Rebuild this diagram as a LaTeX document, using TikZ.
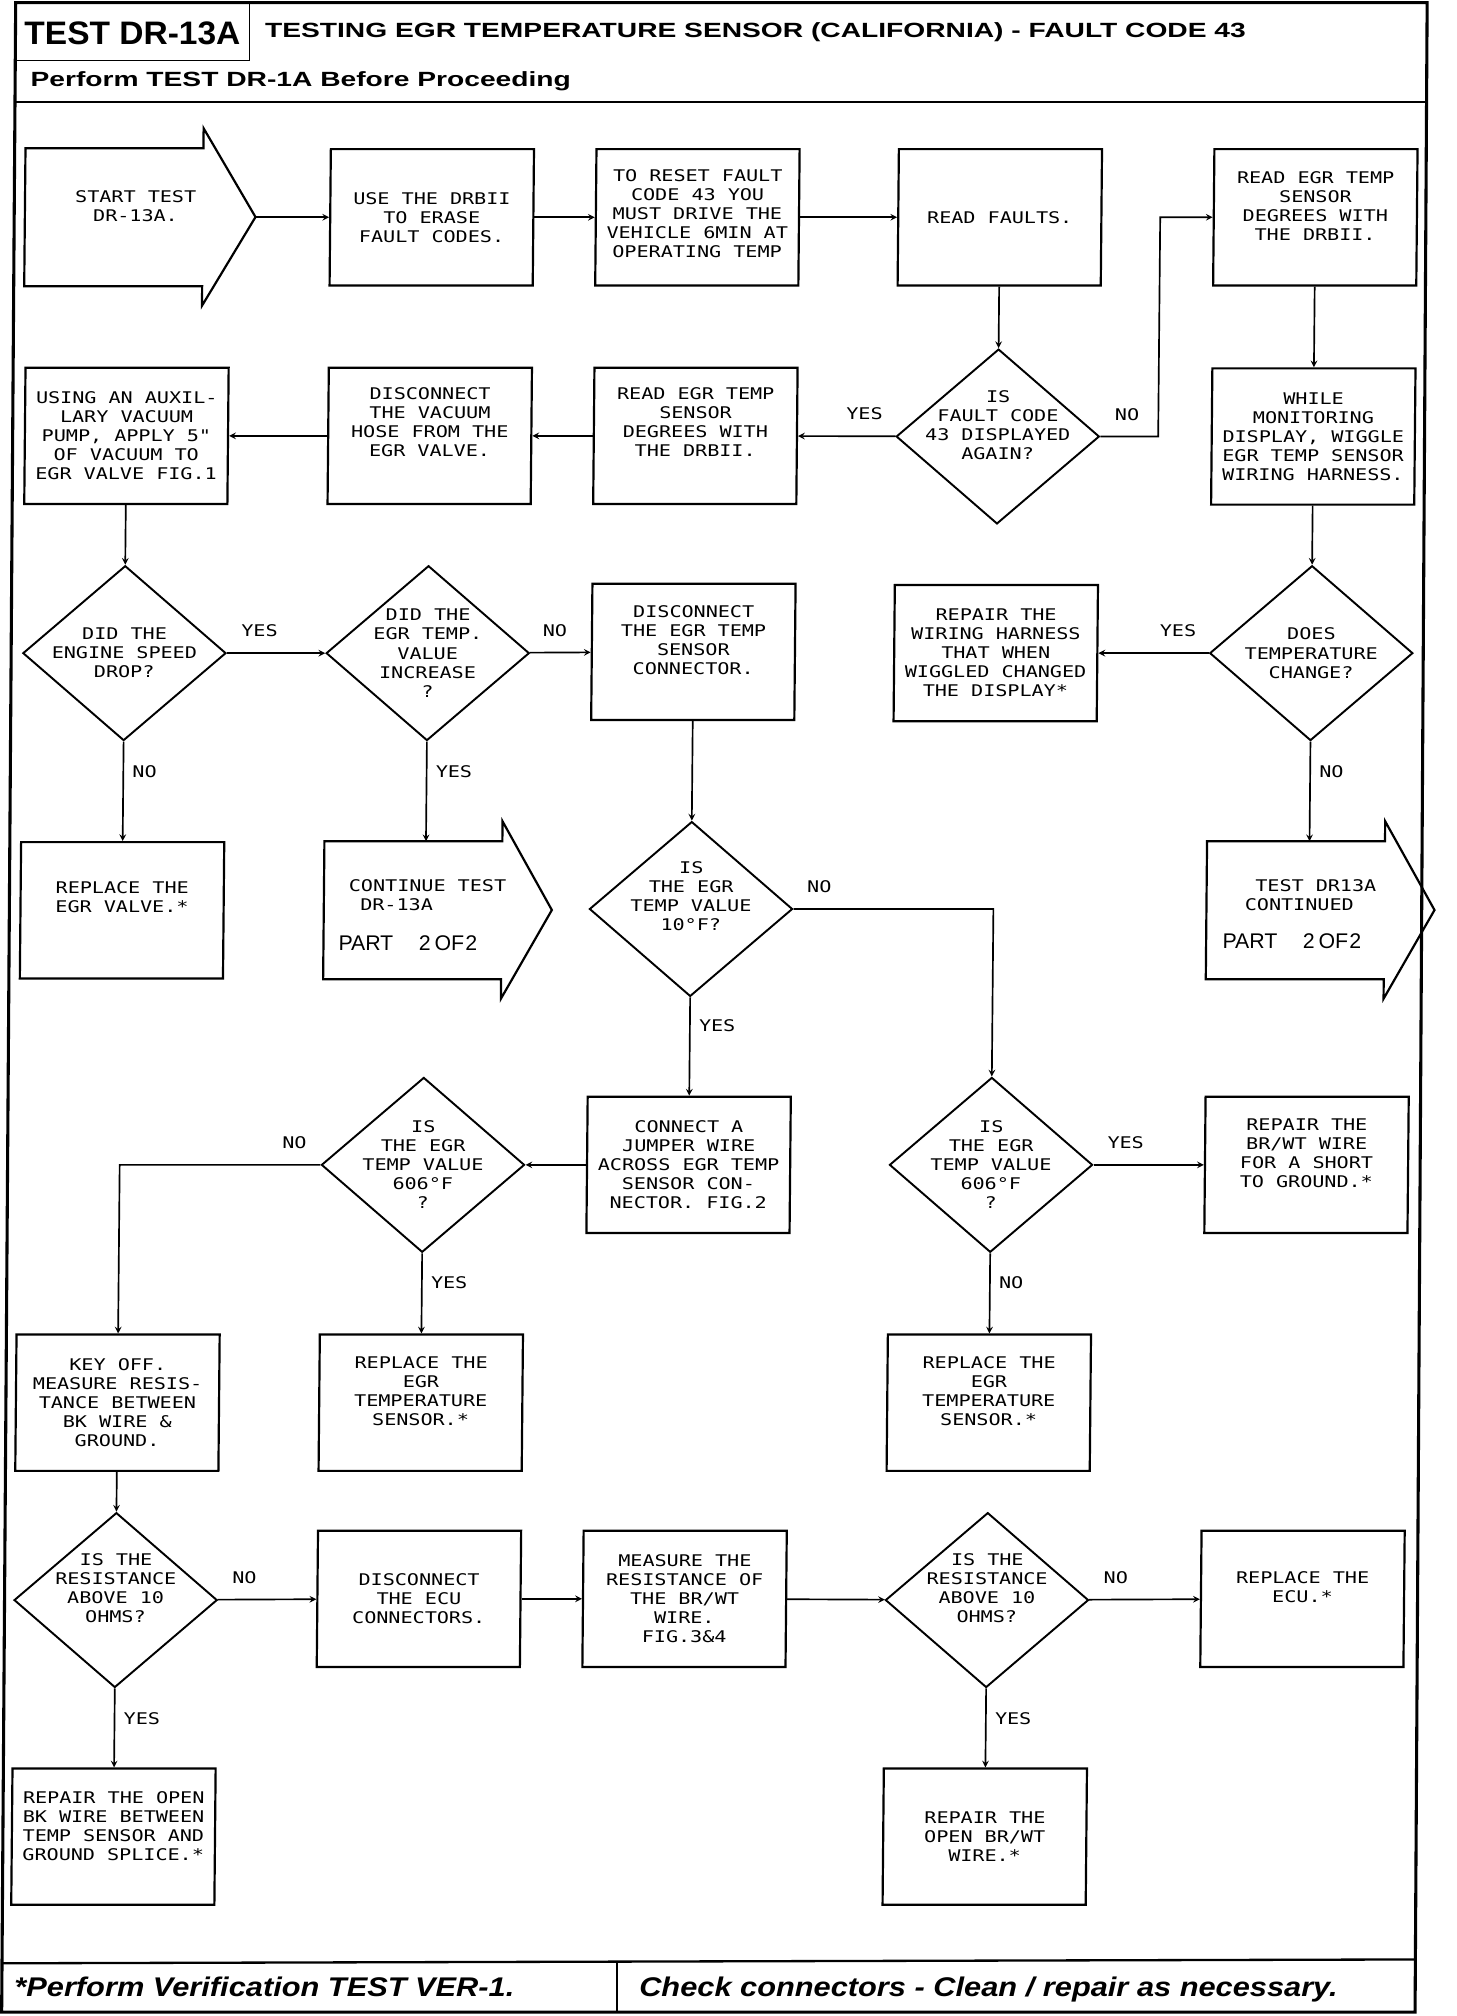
\documentclass[tikz,border=0pt]{standalone}
\usepackage{fontspec}
\usetikzlibrary{shapes.geometric}
\newfontfamily\plotter[FakeStretch=1.25]{DejaVu Sans Mono}
\newfontfamily\headfont[FakeStretch=1.37]{Liberation Sans}
\newfontfamily\tagfont[FakeStretch=1.03]{Liberation Sans}
\newfontfamily\footfont[FakeStretch=1.14]{Liberation Sans}
\newfontfamily\partfont{Liberation Sans}
\begin{document}
\begin{tikzpicture}[x=1pt,y=-1pt,>=stealth,
  box/.style={draw,line width=1.7pt,minimum width=158pt,minimum height=106pt,inner sep=0pt},
  dia/.style={draw,diamond,line width=1.5pt,minimum width=158pt,minimum height=136pt,inner sep=0pt},
  body/.style={minimum width=138pt,minimum height=107pt,inner sep=0pt},
  txt/.style={font=\plotter\fontsize{12.5}{14.8}\selectfont,align=center,inner sep=0pt},
  lab/.style={font=\plotter\fontsize{12.5}{14.8}\selectfont,inner sep=0pt},
  part/.style={font=\partfont\fontsize{16.5}{18}\selectfont,inner sep=0pt,anchor=base west},
  link/.style={->,line width=1.3pt}]
\useasboundingbox (0,0) rectangle (1132.5,1568);
\draw[line width=2.4pt] (12.2,2) -- (1110,2) -- (1100.6,1565) -- (1.3,1565) -- cycle;
\draw[line width=1.4pt] (194,2) -- (194,47) -- (11.9,47);
\draw[line width=1.8pt] (11.7,79.5) -- (1109.5,79.5);
\draw[line width=1.8pt] (1.5,1527) -- (1101,1524);
\draw[line width=1.4pt] (480,1526) -- (480,1565);
\node[font=\tagfont\bfseries\fontsize{25.3}{28}\selectfont,inner sep=0pt] (tag) at (103,26) {TEST DR-13A};
\node[font=\headfont\bfseries\fontsize{16}{18}\selectfont,inner sep=0pt,anchor=base west] (title) at (206,29) {TESTING EGR TEMPERATURE SENSOR (CALIFORNIA) - FAULT CODE 43};
\node[font=\headfont\bfseries\fontsize{16}{18}\selectfont,inner sep=0pt,anchor=base west] (first) at (23.6,67) {Perform TEST DR-1A Before Proceeding};
\node[font=\footfont\bfseries\itshape\fontsize{21}{23}\selectfont,inner sep=0pt,anchor=base west] (verify) at (11,1553) {*Perform Verification TEST VER-1.};
\node[font=\footfont\bfseries\itshape\fontsize{21}{23}\selectfont,inner sep=0pt,anchor=base west] (check) at (497,1553) {Check connectors - Clean / repair as necessary.};
\begin{scope}[xslant=0.0093,transform shape]
\node[body] (start) at (90.1,169) {};
\draw[line width=1.7pt] (start.north west) -- (start.north east) -- ++(0,-15.5) -- ++(41,69) -- ++(-41,69) -- (start.south east) -- (start.south west) -- cycle;
\coordinate (starttip) at ([xshift=41pt]start.east);
\node[txt] (starttxt) at (107,160.5) {START TEST\\DR-13A.};
\node[box,label={[txt]center:{USE THE DRBII\\TO ERASE\\FAULT CODES.}}] (erase) at (337.4,169) {};
\node[box,label={[txt,yshift=3pt]center:{TO RESET FAULT\\CODE 43 YOU\\MUST DRIVE THE\\VEHICLE 6MIN AT\\OPERATING TEMP}}] (reset) at (544,169) {};
\node[box,label={[txt]center:{READ FAULTS.}}] (faults) at (779.2,169) {};
\node[box,label={[txt,yshift=9pt]center:{READ EGR TEMP\\SENSOR\\DEGREES WITH\\THE DRBII.}}] (readtemp) at (1024.6,169) {};
\node[box,label={[txt]center:{USING AN AUXIL-\\LARY VACUUM\\PUMP, APPLY 5"\\OF VACUUM TO\\EGR VALVE FIG.1}}] (pump) at (101.5,339) {};
\node[box,label={[txt,yshift=11pt]center:{DISCONNECT\\THE VACUUM\\HOSE FROM THE\\EGR VALVE.}}] (hose) at (337.4,339) {};
\node[box,label={[txt,yshift=11pt]center:{READ EGR TEMP\\SENSOR\\DEGREES WITH\\THE DRBII.}}] (readagain) at (544,339) {};
\node[dia,label={[txt,yshift=9pt]center:{IS\\FAULT CODE\\43 DISPLAYED\\AGAIN?}}] (again) at (779.2,339.5) {};
\node[box,label={[txt]center:{WHILE\\MONITORING\\DISPLAY, WIGGLE\\EGR TEMP SENSOR\\WIRING HARNESS.}}] (wiggle) at (1024.6,339.5) {};
\node[dia,label={[txt]center:{DID THE\\ENGINE SPEED\\DROP?}}] (drop) at (101.5,508) {};
\node[dia,label={[txt]center:{DID THE\\EGR TEMP.\\VALUE\\INCREASE\\?}}] (increase) at (337.4,508) {};
\node[box,label={[txt,yshift=9pt]center:{DISCONNECT\\THE EGR TEMP\\SENSOR\\CONNECTOR.}}] (unplug) at (544,507) {};
\node[box,label={[txt]center:{REPAIR THE\\WIRING HARNESS\\THAT WHEN\\WIGGLED CHANGED\\THE DISPLAY*}}] (harness) at (779.2,508) {};
\node[dia,label={[txt]center:{DOES\\TEMPERATURE\\CHANGE?}}] (change) at (1024.6,508) {};
\node[box,label={[txt,yshift=10pt]center:{REPLACE THE\\EGR VALVE.*}}] (valve) at (101.5,708) {};
\node[body] (cont) at (327.6,708) {};
\draw[line width=1.7pt] (cont.north west) -- (cont.north east) -- ++(0,-15.5) -- ++(39,69) -- ++(-39,69) -- (cont.south east) -- (cont.south west) -- cycle;
\node[txt,align=left,anchor=north west] (conttxt) at (277.6,684) {CONTINUE TEST\\\hspace*{9pt}DR-13A};
\node[part] (contpart) at (270,739) {PART\hspace{20pt}2\hspace{3pt}OF\hspace{1pt}2};
\node[dia,label={[txt,yshift=10pt]center:{IS\\THE EGR\\TEMP VALUE\\10°F?}}] (tenf) at (544,707) {};
\node[body] (next) at (1014.1,708) {};
\draw[line width=1.7pt] (next.north west) -- (next.north east) -- ++(0,-15.5) -- ++(39,69) -- ++(-39,69) -- (next.south east) -- (next.south west) -- cycle;
\node[txt,align=left,anchor=north west] (nexttxt) at (974.6,684) {\hspace*{8pt}TEST DR13A\\CONTINUED};
\node[part] (nextpart) at (957.6,738) {PART\hspace{20pt}2\hspace{3pt}OF\hspace{1pt}2};
\node[dia,label={[txt]center:{IS\\THE EGR\\TEMP VALUE\\606°F\\?}}] (lowleft) at (337.4,906) {};
\node[box,label={[txt]center:{CONNECT A\\JUMPER WIRE\\ACROSS EGR TEMP\\SENSOR CON-\\NECTOR. FIG.2}}] (jumper) at (544,906) {};
\node[dia,label={[txt]center:{IS\\THE EGR\\TEMP VALUE\\606°F\\?}}] (lowright) at (779.2,906) {};
\node[box,label={[txt,yshift=9pt]center:{REPAIR THE\\BR/WT WIRE\\FOR A SHORT\\TO GROUND.*}}] (short) at (1024.6,906) {};
\node[box,label={[txt]center:{KEY OFF.\\MEASURE RESIS-\\TANCE BETWEEN\\BK WIRE \&\\GROUND.}}] (keyoff) at (101.5,1091) {};
\node[box,label={[txt,yshift=9pt]center:{REPLACE THE\\EGR\\TEMPERATURE\\SENSOR.*}}] (sensorA) at (337.4,1091) {};
\node[box,label={[txt,yshift=9pt]center:{REPLACE THE\\EGR\\TEMPERATURE\\SENSOR.*}}] (sensorB) at (779.2,1091) {};
\node[dia,label={[txt,yshift=9pt]center:{IS THE\\RESISTANCE\\ABOVE 10\\OHMS?}}] (ohmsA) at (101.5,1244.5) {};
\node[box,label={[txt]center:{DISCONNECT\\THE ECU\\CONNECTORS.}}] (ecu) at (337.4,1243.5) {};
\node[box,label={[txt]center:{MEASURE THE\\RESISTANCE OF\\THE BR/WT\\WIRE.\\FIG.3\&4}}] (measure) at (544,1243.5) {};
\node[dia,label={[txt,yshift=9pt]center:{IS THE\\RESISTANCE\\ABOVE 10\\OHMS?}}] (ohmsB) at (779.2,1244.5) {};
\node[box,label={[txt,yshift=9pt]center:{REPLACE THE\\ECU.*}}] (newecu) at (1024.6,1243.5) {};
\node[box,label={[txt,yshift=8pt]center:{REPAIR THE OPEN\\BK WIRE BETWEEN\\TEMP SENSOR AND\\GROUND SPLICE.*}}] (openbk) at (101.5,1428.5) {};
\node[box,label={[txt]center:{REPAIR THE\\OPEN BR/WT\\WIRE.*}}] (openbr) at (779.2,1428.5) {};
\draw[link] (starttip) -- (erase);
\draw[link] (erase) -- (reset);
\draw[link] (reset) -- (faults);
\draw[link] (faults) -- (again);
\draw[link] (again.east) -- ++(45,0) node[lab,pos=0.46,above=12pt]{NO} |- (readtemp.west);
\draw[link] (again) -- node[lab,pos=0.32,above=12pt]{YES} (readagain);
\draw[link] (readagain) -- (hose);
\draw[link] (hose) -- (pump);
\draw[link] (readtemp) -- (wiggle);
\draw[link] (pump) -- (drop);
\draw[link] (wiggle) -- (change);
\draw[link] (drop) -- node[lab,pos=0.33,above=12pt]{YES} (increase);
\draw[link] (increase) -- node[lab,pos=0.41,above=12pt]{NO} (unplug);
\draw[link] (change) -- node[lab,pos=0.28,above=12pt]{YES} (harness);
\draw[link] (drop) -- node[lab,pos=0.3,right=6.5pt]{NO} (valve);
\draw[link] (increase.south) -- node[lab,pos=0.3,right=6.5pt]{YES} (increase.south |- cont.north);
\draw[link] (change.south) -- node[lab,pos=0.3,right=6.5pt]{NO} (change.south |- next.north);
\draw[link] (unplug) -- (tenf);
\draw[link] (tenf.east) -| node[lab,pos=0.064,above=12pt]{NO} (lowright.north);
\draw[link] (tenf) -- node[lab,pos=0.29,right=6.5pt]{YES} (jumper);
\draw[link] (jumper) -- (lowleft);
\draw[link] (lowleft.west) -| node[lab,pos=0.065,above=12pt]{NO} (keyoff.north);
\draw[link] (lowleft) -- node[lab,pos=0.37,right=6.5pt]{YES} (sensorA);
\draw[link] (lowright) -- node[lab,pos=0.29,above=12pt]{YES} (short);
\draw[link] (lowright) -- node[lab,pos=0.37,right=6.5pt]{NO} (sensorB);
\draw[link] (keyoff) -- (ohmsA);
\draw[link] (ohmsA) -- node[lab,pos=0.27,above=12pt]{NO} (ecu);
\draw[link] (ecu) -- (measure);
\draw[link] (measure) -- (ohmsB);
\draw[link] (ohmsB) -- node[lab,pos=0.24,above=12pt]{NO} (newecu);
\draw[link] (ohmsA) -- node[lab,pos=0.38,right=6.5pt]{YES} (openbk);
\draw[link] (ohmsB) -- node[lab,pos=0.38,right=6.5pt]{YES} (openbr);
\end{scope}
\end{tikzpicture}
\end{document}
